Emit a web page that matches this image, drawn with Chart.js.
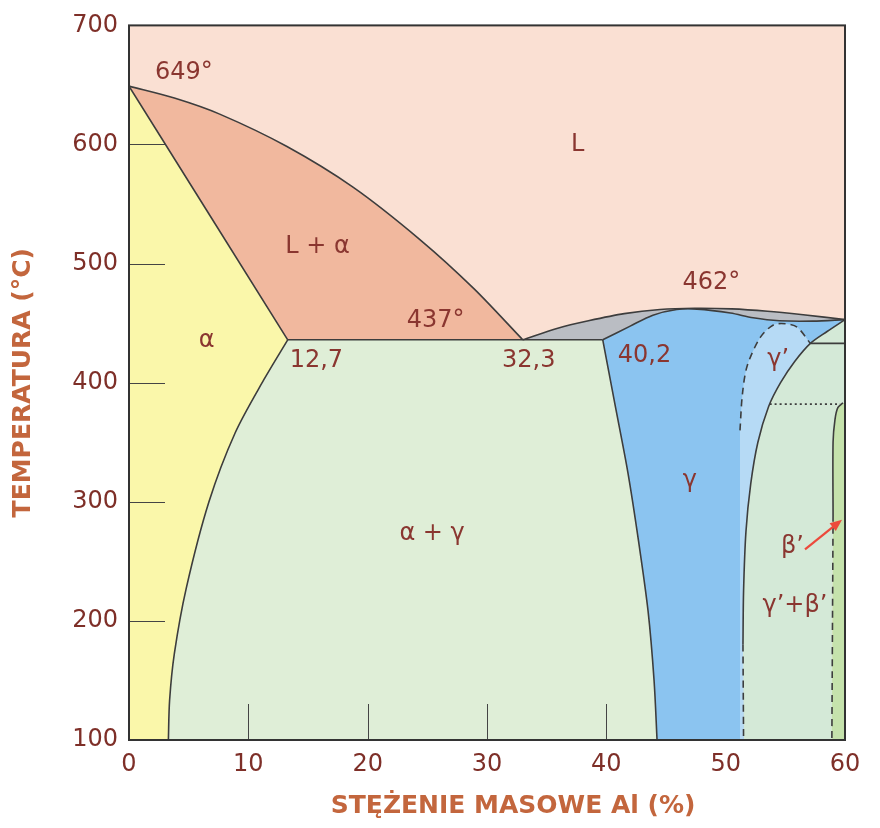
<!DOCTYPE html>
<html>
<head>
<meta charset="utf-8">
<script src="https://cdn.jsdelivr.net/npm/chart.js@4.4.1/dist/chart.umd.min.js"></script>
<style>
  html, body { margin: 0; padding: 0; background: #ffffff; }
  #wrap { width: 880px; height: 828px; position: relative; }
</style>
</head>
<body>
<div id="wrap"><canvas id="c"></canvas></div>
<script>
// ---- axis ranges / ticks ----
const xRange = [0, 60];
const yRange = [100, 700];
const xStep = 10;
const yStep = 100;

// ---- phase boundaries [x (% Al), T (°C)] ----
const liquidusAlpha   = [[0,649],[3.8,639],[7.6,625.5],[13.2,598.5],[18.8,564],[24.4,520],[28.9,479],[33.0,436]];
const solidusAlpha    = [[0,649],[13.3,436]];
const solvusAlpha     = [[13.3,436],[11.3,402.5],[8.9,358],[6.7,300],[4.8,227.5],[3.8,172.5],[3.4,133],[3.3,100]];
const eutecticLine    = [[13.3,436],[39.7,436]];
const solvusGammaLeft = [[39.7,436],[40.7,383],[41.8,325],[42.7,267],[43.5,208],[44.0,150],[44.25,100]];
const liquidusGamma   = [[33.0,436],[36.0,446],[38.5,452],[41.5,458],[44.5,461.5],[47.4,462.5],[50.5,462],[53.5,460],[56.5,457],[60,453]];
const solidusGamma    = [[39.7,436],[42.0,447.5],[43.9,456.7],[45.9,461.5],[47.6,461.8],[50.4,458.5],[52.3,454.5],[54.5,452],[57.3,451.7],[60,453]];
const gammaPrimeCurve = [[60,453],[58.5,443],[57.1,433],[55.8,418],[54.6,400],[53.6,380],[52.7,350],[52.1,315],[51.7,275],[51.5,225],[51.45,180]];
const gammaPrimeCurveDashed = [[51.45,180],[51.5,100]];
const gammaPrimeDome  = [[51.2,360],[51.4,390],[51.8,414],[52.9,438],[54.0,448.5],[55.0,449.5],[56.0,446.5],[57.1,433]];
const gammaPrimeEdgeX = 51.2;
const upperHorizontal = [[57.1,433],[60,433]];
const dottedLine      = [[53.7,382],[59.6,382]];
const betaBoundary    = [[59.83,383],[59.4,379],[59.16,369],[59.0,350],[59.0,289]];
const betaBoundaryDashed = [[59.0,289],[58.9,100]];
const betaArrow       = [[56.65,260],[59.75,285]];

// ---- region labels ----
const labelTexts = ['649°','L','L + α','α','437°','12,7','32,3','40,2','462°','γ’','γ','α + γ','β’','γ’+β’'];
const labelX     = [4.6, 37.6, 15.8, 6.5, 25.7, 15.7, 33.5, 43.2, 48.8, 54.4, 47.0, 25.4, 55.6, 55.8];
const labelY     = [660, 600, 514, 435, 451.7, 418, 418, 422.5, 484, 419, 318, 273, 262.5, 212.5];

// ---- helpers ----
const pts = arr => arr.map(([x, y]) => ({x, y}));
const rev = arr => [...arr].reverse();
// join boundary pieces, doubling every junction so that corners stay sharp under curve smoothing
const chain = (...parts) => parts.flatMap(p => [p[0], ...p, p[p.length - 1]]);

const [x0, x1] = xRange, [y0, y1] = yRange;
const regions = [
  {name:'L',      color:'#fae0d3', order:20, tension:0, poly:[[x0,y1],[x1,y1],[x1,y0],[x0,y0]]},
  {name:'L+α',    color:'#f1b89e', order:5,  poly:chain(liquidusAlpha, rev(eutecticLine).slice(1), rev(solidusAlpha))},
  {name:'α',      color:'#faf7aa', order:5,  poly:chain(solidusAlpha, solvusAlpha, [[x0,y0]])},
  {name:'α+γ',    color:'#dfeed7', order:5,  poly:chain(solvusAlpha, rev(solvusGammaLeft), rev(eutecticLine))},
  {name:'L+γ',    color:'#babdc3', order:5,  poly:chain(liquidusGamma, rev(solidusGamma), [[33.0,436]])},
  {name:'γ',      color:'#8bc4f0', order:4,  poly:chain(solvusGammaLeft, rev(gammaPrimeCurveDashed), rev(gammaPrimeCurve), rev(solidusGamma))},
  {name:'γ’',     color:'#b6daf5', order:3,  poly:chain(gammaPrimeDome, gammaPrimeCurve.slice(2), gammaPrimeCurveDashed, [[gammaPrimeEdgeX,y0]])},
  {name:'γ’+β’',  color:'#d4e9d7', order:5,  poly:chain(gammaPrimeCurve, gammaPrimeCurveDashed, rev(betaBoundaryDashed), rev(betaBoundary), [[x1,383]])},
  {name:'β’',     color:'#c5e2ac', order:2,  poly:chain(rev(betaBoundaryDashed), rev(betaBoundary), [[x1,383],[x1,y0]])}
];

const lineColor = '#3d3d3d';
const lines = [
  {d:liquidusAlpha}, {d:solidusAlpha}, {d:solvusAlpha}, {d:eutecticLine},
  {d:solvusGammaLeft}, {d:liquidusGamma}, {d:solidusGamma},
  {d:gammaPrimeCurve}, {d:gammaPrimeCurveDashed, dash:[7,5]},
  {d:gammaPrimeDome, dash:[7,5]}, {d:upperHorizontal},
  {d:dottedLine, dash:[2,3]}, {d:betaBoundary}, {d:betaBoundaryDashed, dash:[7,5]}
];

const smooth = 0.3;
const datasets = [];
regions.forEach(r => datasets.push({
  label: r.name, data: pts(r.poly), showLine: true, fill: 'shape',
  backgroundColor: r.color, borderWidth: 0, borderColor: 'rgba(0,0,0,0)',
  pointRadius: 0, tension: r.tension === 0 ? 0 : smooth, order: r.order
}));
lines.forEach((l, i) => datasets.push({
  label: 'line' + i, data: pts(l.d), showLine: true, fill: false,
  borderColor: lineColor, borderWidth: 1.6, borderDash: l.dash || [],
  pointRadius: 0, tension: smooth, order: 0
}));

const textColor = '#8a3630';
const overlay = {
  id: 'overlay',
  afterDatasetsDraw(chart) {
    const {ctx, chartArea: a, scales: {x, y}} = chart;
    ctx.save();
    // inner tick marks
    ctx.strokeStyle = '#444';
    ctx.lineWidth = 1;
    y.ticks.forEach(t => {
      if (t.value > y0 && t.value < y1) {
        const py = Math.round(y.getPixelForValue(t.value)) + 0.5;
        ctx.beginPath(); ctx.moveTo(a.left, py); ctx.lineTo(a.left + 36, py); ctx.stroke();
      }
    });
    x.ticks.forEach(t => {
      if (t.value > x0 && t.value <= 40) {
        const px = Math.round(x.getPixelForValue(t.value)) + 0.5;
        ctx.beginPath(); ctx.moveTo(px, a.bottom); ctx.lineTo(px, a.bottom - 36); ctx.stroke();
      }
    });
    // frame
    ctx.strokeStyle = '#333';
    ctx.lineWidth = 2;
    ctx.strokeRect(a.left, a.top, a.right - a.left, a.bottom - a.top);
    // arrow
    const ax0 = x.getPixelForValue(betaArrow[0][0]), ay0 = y.getPixelForValue(betaArrow[0][1]);
    const ax1 = x.getPixelForValue(betaArrow[1][0]), ay1 = y.getPixelForValue(betaArrow[1][1]);
    const ang = Math.atan2(ay1 - ay0, ax1 - ax0);
    ctx.strokeStyle = '#ec4a3c'; ctx.fillStyle = '#ec4a3c'; ctx.lineWidth = 2.2;
    ctx.beginPath(); ctx.moveTo(ax0, ay0); ctx.lineTo(ax1 - 8 * Math.cos(ang), ay1 - 8 * Math.sin(ang)); ctx.stroke();
    ctx.beginPath();
    ctx.moveTo(ax1, ay1);
    ctx.lineTo(ax1 - 12 * Math.cos(ang) + 5 * Math.sin(ang), ay1 - 12 * Math.sin(ang) - 5 * Math.cos(ang));
    ctx.lineTo(ax1 - 12 * Math.cos(ang) - 5 * Math.sin(ang), ay1 - 12 * Math.sin(ang) + 5 * Math.cos(ang));
    ctx.closePath(); ctx.fill();
    // labels
    ctx.fillStyle = textColor;
    ctx.font = '24px "DejaVu Sans"';
    ctx.textAlign = 'center';
    ctx.textBaseline = 'middle';
    labelTexts.forEach((t, i) => {
      ctx.fillText(t, x.getPixelForValue(labelX[i]), y.getPixelForValue(labelY[i]));
    });
    ctx.restore();
  }
};

const tickColor = '#7e2f28';
const titleColor = '#c3663d';
new Chart(document.getElementById('c'), {
  type: 'scatter',
  data: { datasets },
  options: {
    responsive: true,
    maintainAspectRatio: false,
    animation: false,
    layout: { padding: { top: 20, right: 35, left: 0, bottom: 0 } },
    plugins: { legend: { display: false }, tooltip: { enabled: false }, filler: { propagate: false } },
    scales: {
      x: {
        type: 'linear', min: x0, max: x1,
        ticks: { stepSize: xStep, color: tickColor, padding: 10, font: { family: 'DejaVu Sans', size: 24 } },
        grid: { display: false, drawTicks: false },
        border: { display: false },
        title: { display: true, text: '      STĘŻENIE MASOWE Al (%)', color: titleColor,
                 font: { family: 'DejaVu Sans', size: 25, weight: 'bold' }, padding: { top: 0, bottom: 7 } },
        afterFit(s) { s.height = 88; }
      },
      y: {
        type: 'linear', min: y0, max: y1,
        ticks: { stepSize: yStep, color: tickColor, padding: 11, font: { family: 'DejaVu Sans', size: 24 } },
        grid: { display: false, drawTicks: false },
        border: { display: false },
        title: { display: true, text: 'TEMPERATURA (°C)', color: titleColor,
                 font: { family: 'DejaVu Sans', size: 25, weight: 'bold' }, padding: { top: 8, bottom: 0 } },
        afterFit(s) { s.width = 129; }
      }
    }
  },
  plugins: [overlay]
});
</script>
</body>
</html>
